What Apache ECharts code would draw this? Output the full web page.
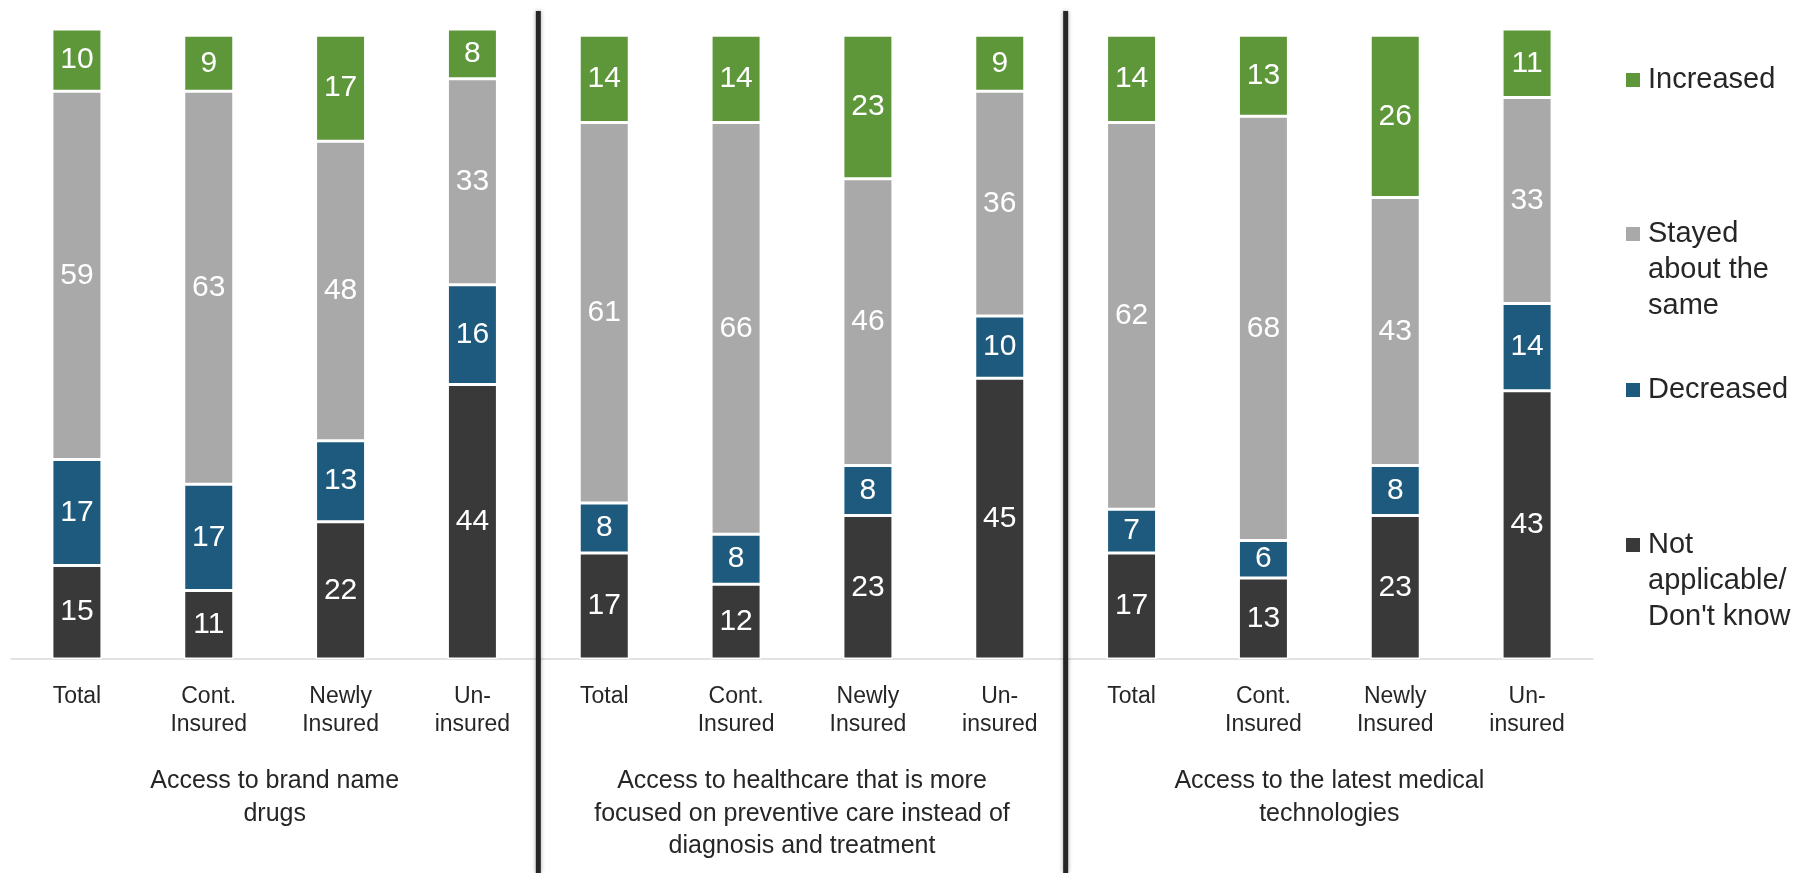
<!DOCTYPE html>
<html>
<head>
<meta charset="utf-8">
<script src="https://cdn.jsdelivr.net/npm/echarts@6/dist/echarts.min.js"></script>
<style>
  html, body { margin: 0; padding: 0; background: #fff; }
  #chart { width: 1802px; height: 873px; }
</style>
</head>
<body>
<div id="chart"></div>
<script>
var categories = [
  "Total", "Cont.\nInsured", "Newly\nInsured", "Un-\ninsured",
  "Total", "Cont.\nInsured", "Newly\nInsured", "Un-\ninsured",
  "Total", "Cont.\nInsured", "Newly\nInsured", "Un-\ninsured"
];
var groupLabels = [
  "Access to brand name\ndrugs",
  "Access to healthcare that is more\nfocused on preventive care instead of\ndiagnosis and treatment",
  "Access to the latest medical\ntechnologies"
];
var notApplicable = [15, 11, 22, 44, 17, 12, 23, 45, 17, 13, 23, 43];
var decreased = [17, 17, 13, 16, 8, 8, 8, 10, 7, 6, 8, 14];
var stayed = [59, 63, 48, 33, 61, 66, 46, 36, 62, 68, 43, 33];
var increased = [10, 9, 17, 8, 14, 14, 23, 9, 14, 13, 26, 11];

var seriesNames = ["Not\napplicable/\nDon't know", "Decreased", "Stayed\nabout the\nsame", "Increased"];
var colors = ["#393939", "#1d5a7d", "#a9a9a9", "#5e9739"];
var font = "Liberation Sans, Arial, sans-serif";

var chart = echarts.init(document.getElementById("chart"));

function barSeries(name, data, color) {
  return {
    name: name,
    type: "bar",
    stack: "all",
    data: data,
    barWidth: 50,
    itemStyle: { color: color, borderColor: "#fff", borderWidth: 1.5 },
    label: {
      show: true,
      position: "inside",
      color: "#fff",
      fontSize: 30,
      fontFamily: font
    }
  };
}

var option = {
  animation: false,
  grid: { left: 11, right: 209, top: 4, bottom: 214 },
  xAxis: {
    type: "category",
    data: categories,
    axisLine: { lineStyle: { color: "#d9d9d9", width: 1.5 } },
    axisTick: { length: 10, lineStyle: { color: "#d9d9d9", width: 1.5 } },
    axisLabel: {
      interval: 0,
      margin: 24,
      color: "#262626",
      fontSize: 23,
      lineHeight: 28,
      fontFamily: font
    }
  },
  yAxis: {
    type: "value",
    min: 0,
    max: 105,
    show: false,
    splitLine: { show: false }
  },
  series: [
    barSeries(seriesNames[0], notApplicable, colors[0]),
    barSeries(seriesNames[1], decreased, colors[1]),
    barSeries(seriesNames[2], stayed, colors[2]),
    barSeries(seriesNames[3], increased, colors[3])
  ]
};
chart.setOption(option);

// extra pieces: group separators, group titles, legend
var graphics = [];
function px(i) { return chart.convertToPixel({ xAxisIndex: 0 }, i); }

[4, 8].forEach(function (b) {
  var x = (px(b - 1) + px(b)) / 2;
  graphics.push({
    type: "line",
    shape: { x1: x, y1: 11, x2: x, y2: 873 },
    style: { stroke: "#262626", lineWidth: 5, shadowBlur: 4, shadowColor: "rgba(0,0,0,0.35)" },
    z: 10
  });
});

groupLabels.forEach(function (t, g) {
  var x = (px(g * 4 + 1) + px(g * 4 + 2)) / 2;
  graphics.push({
    type: "text",
    x: x,
    y: 765,
    style: {
      text: t,
      fill: "#262626",
      font: "25px " + font,
      lineHeight: 32.5,
      align: "center",
      verticalAlign: "top"
    }
  });
});

var legendOrder = [3, 2, 1, 0];
var legendY = [80, 234, 390, 545];
legendOrder.forEach(function (s, k) {
  graphics.push({
    type: "rect",
    shape: { x: 1626, y: legendY[k] - 7, width: 14, height: 14 },
    style: { fill: colors[s] }
  });
  graphics.push({
    type: "text",
    x: 1648,
    y: legendY[k] - 18,
    style: {
      text: seriesNames[s],
      fill: "#262626",
      font: "29px " + font,
      lineHeight: 36,
      align: "left",
      verticalAlign: "top"
    }
  });
});

chart.setOption({ graphic: graphics });
</script>
</body>
</html>
